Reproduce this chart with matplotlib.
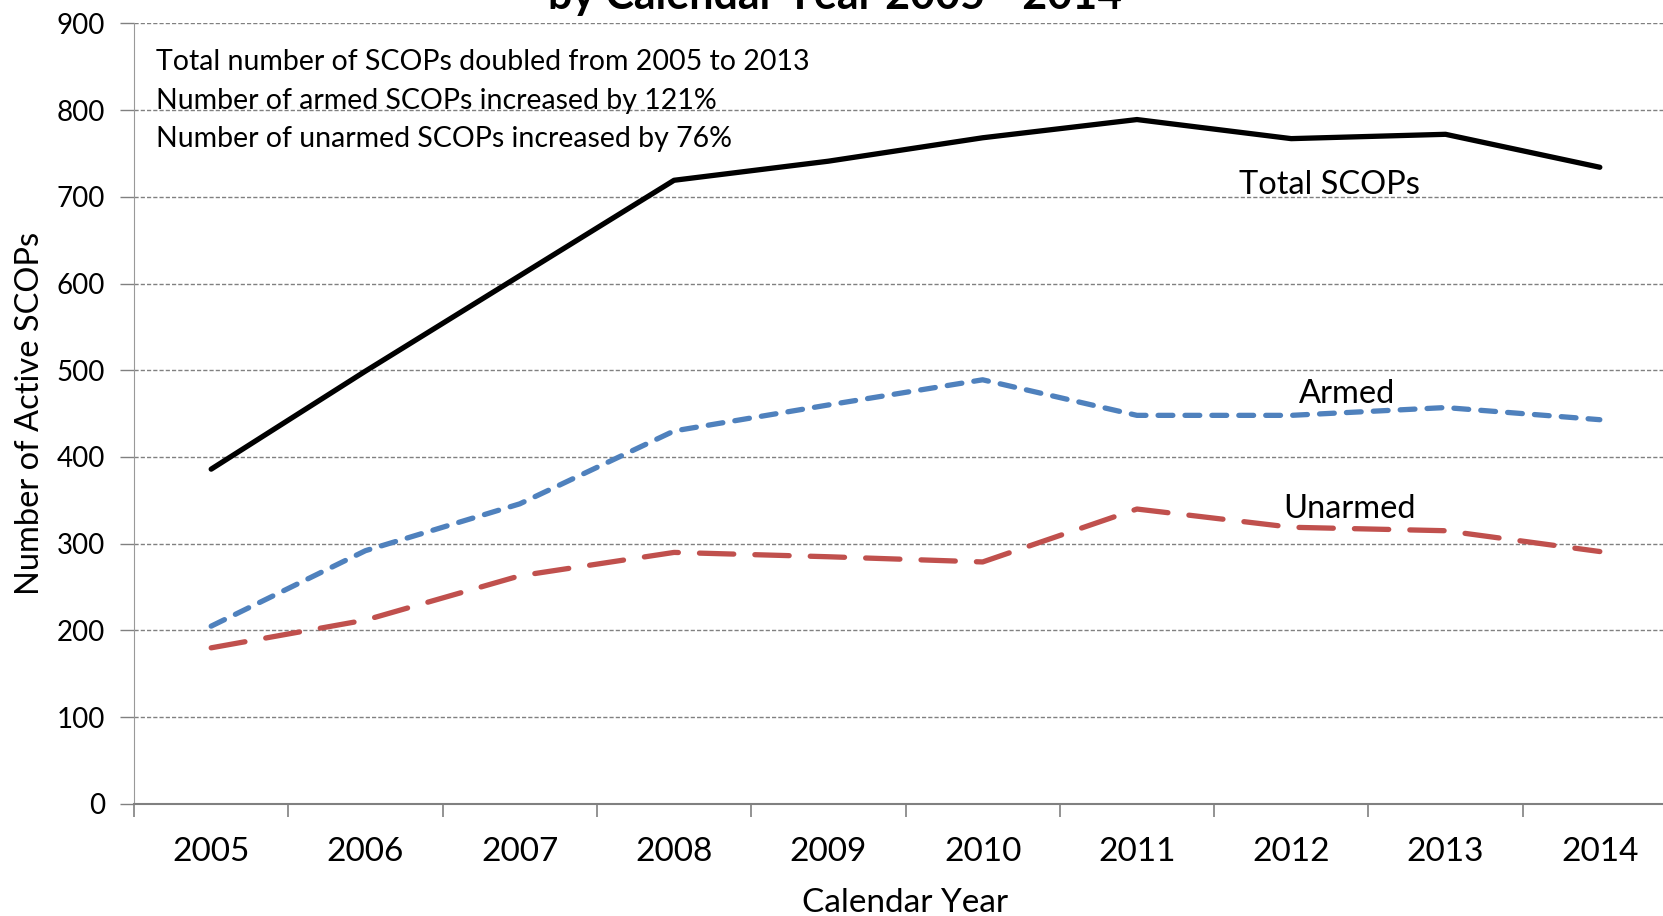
import matplotlib
matplotlib.use('Agg')
from matplotlib import pyplot as plt
import numpy as np

plt.rcParams['font.family'] = ['Lato', 'DejaVu Sans']

years = ['2005', '2006', '2007', '2008', '2009', '2010', '2011', '2012', '2013', '2014']
total = [386, 499, 609, 719, 741, 768, 789, 767, 772, 734]
armed = [205, 292, 346, 430, 460, 489, 448, 448, 457, 443]
unarmed = [180, 212, 263, 290, 285, 279, 340, 319, 315, 291]

notes = ['Total number of SCOPs doubled from 2005 to 2013',
         'Number of armed SCOPs increased by 121%',
         'Number of unarmed SCOPs increased by 76%']

fig = plt.figure(figsize=(16.63, 9.16), dpi=100)
ax = fig.add_axes([0.0806, 0.1223, 0.9278, 0.8523])

x = np.arange(len(years))
ax.plot(x, total, color='black', lw=3.8, solid_capstyle='round', zorder=3)
ax.plot(x, armed, color='#4F81BD', lw=3.8, dashes=(2.8, 2.3), dash_capstyle='round', zorder=3)
ax.plot(x, unarmed, color='#C0504D', lw=3.8, dashes=(6.5, 4.0), dash_capstyle='round', zorder=3)

ax.set_xlim(-0.5, len(years) - 0.5)
ax.set_ylim(0, 900)
ax.set_yticks(range(0, 901, 100))
ax.set_xticks(x)
ax.set_xticklabels(years, fontsize=24)
ax.set_xticks(np.arange(-0.5, len(years), 1), minor=True)
ax.tick_params(axis='x', which='major', length=0, pad=24)
ax.tick_params(axis='x', which='minor', length=9, color='#808080', width=1.2)
ax.tick_params(axis='y', labelsize=20, length=10, color='#808080', width=1, pad=11)

ax.grid(axis='y', color='#808080', linestyle=(0, (3, 1.5)), lw=1)
for s in ['top', 'right']:
    ax.spines[s].set_visible(False)
ax.spines['left'].set_color('#999999')
ax.spines['left'].set_linestyle((0, (1.5, 1)))
ax.spines['bottom'].set_color('#808080')
ax.spines['bottom'].set_linewidth(1.5)

ax.set_xlabel('Calendar Year', fontsize=24, labelpad=15)
ax.set_ylabel('Number of Active SCOPs', fontsize=23.5, labelpad=8.5)

for i, t in enumerate(notes):
    ax.text(0.014, 0.95 - i * 0.049, t, transform=ax.transAxes, fontsize=20.5, va='center')

ax.text(7.25, 713, 'Total SCOPs', fontsize=23.5, ha='center', va='center')
ax.text(7.36, 473, 'Armed', fontsize=23.5, ha='center', va='center')
ax.text(7.38, 340, 'Unarmed', fontsize=23.5, ha='center', va='center')

fig.text(0.502, 0.99, 'by Calendar Year 2005 - 2014', fontsize=31, fontweight='bold',
         ha='center', va='baseline')

fig.savefig('out.png', dpi=100)
